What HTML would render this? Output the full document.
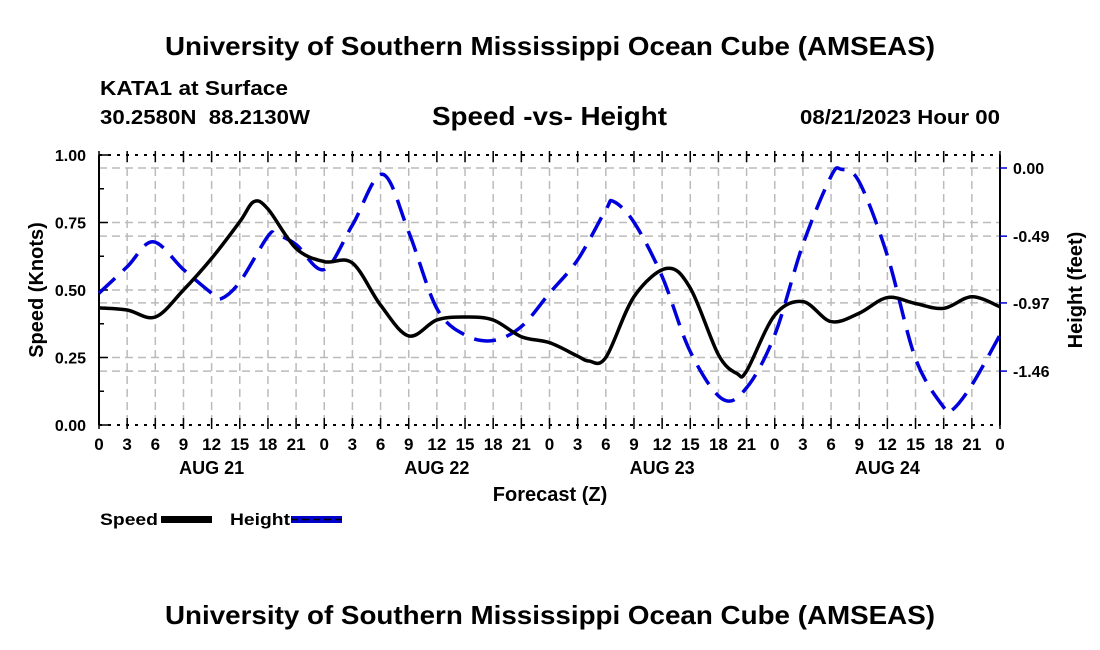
<!DOCTYPE html>
<html><head><meta charset="utf-8"><style>
html,body{margin:0;padding:0;background:#fff;}
svg{display:block;font-family:"Liberation Sans",Arial,sans-serif;font-weight:bold;}
</style></head><body>
<svg id="chart" width="1100" height="650" viewBox="0 0 1100 650">
<text x="165" y="55" font-size="26" textLength="770" lengthAdjust="spacingAndGlyphs">University of Southern Mississippi Ocean Cube (AMSEAS)</text>
<text x="100" y="95" font-size="20" textLength="188" lengthAdjust="spacingAndGlyphs">KATA1 at Surface</text>
<text x="100" y="124" font-size="20" textLength="210" lengthAdjust="spacingAndGlyphs">30.2580N&#160;&#160;88.2130W</text>
<text x="432" y="125" font-size="26" textLength="235" lengthAdjust="spacingAndGlyphs">Speed -vs- Height</text>
<text x="800" y="124" font-size="20" textLength="200" lengthAdjust="spacingAndGlyphs">08/21/2023 Hour 00</text>
<g id="grid"></g>
<g id="axes"></g>
<g id="series"></g>
<text x="550" y="501" font-size="20" text-anchor="middle">Forecast (Z)</text>
<text transform="translate(43,290) rotate(-90)" font-size="20" text-anchor="middle">Speed (Knots)</text>
<text transform="translate(1082,290) rotate(-90)" font-size="20" text-anchor="middle">Height (feet)</text>
<g>
<g>
<text x="100" y="525" font-size="17" textLength="58" lengthAdjust="spacingAndGlyphs">Speed</text>
<rect x="161" y="516" width="51" height="7" fill="#000"/>
</g>
<g>
<text x="230" y="525" font-size="17" textLength="60" lengthAdjust="spacingAndGlyphs">Height</text>
<rect x="291" y="516" width="51" height="7" fill="#0000cc"/>
<line x1="291" y1="519.5" x2="342" y2="519.5" stroke="#000" stroke-width="1.5" stroke-dasharray="7,4"/>
</g>
</g>
<text x="165" y="624" font-size="26" textLength="770" lengthAdjust="spacingAndGlyphs">University of Southern Mississippi Ocean Cube (AMSEAS)</text>
</svg>
<script>
const speedHours=[0,3,6,9,12,15,16.5,18,21,24,27,30,33,36,39,42,45,48,51,52.2,54,57,60.5,63,66,68,69,72,75,78,81,84,87,90,93,96];
const speedValues=[0.434,0.426,0.40,0.50,0.617,0.753,0.827,0.80,0.654,0.605,0.60,0.444,0.33,0.389,0.40,0.389,0.327,0.305,0.255,0.237,0.25,0.475,0.58,0.507,0.26,0.19,0.20,0.407,0.457,0.383,0.414,0.472,0.45,0.432,0.475,0.438];
const heightHours=[0,3,5.75,9,12,13,15,18,18.9,21,24,27,30.2,33,36,39,42,45,48,51,54,54.8,57,60,63,66.4,69,72,75,78,79.1,81,84,87,90,90.9,93,96];
const heightValues=[-0.90,-0.71,-0.53,-0.73,-0.90,-0.94,-0.82,-0.49,-0.48,-0.55,-0.73,-0.41,-0.045,-0.46,-1.01,-1.20,-1.24,-1.14,-0.90,-0.66,-0.30,-0.24,-0.39,-0.78,-1.32,-1.66,-1.58,-1.20,-0.55,-0.06,-0.01,-0.10,-0.63,-1.37,-1.72,-1.74,-1.56,-1.20];
const xTickLabels=["0","3","6","9","12","15","18","21"];
const dayLabels=["AUG 21","AUG 22","AUG 23","AUG 24"];
const speedTicks=[0,0.25,0.5,0.75,1.0];
const heightTicks=[0,-0.49,-0.97,-1.46];

const X0=99,X1=1000,YT=155,YB=425;
const xs=h=>X0+(X1-X0)*h/96;
const ys=v=>YB-(YB-YT)*v/1.0;
const HPX=139.1, H0Y=168;
const yh=v=>H0Y-v*HPX;
const NS="http://www.w3.org/2000/svg";
function mk(tag,attrs,parent){const e=document.createElementNS(NS,tag);for(const k in attrs)e.setAttribute(k,attrs[k]);parent.appendChild(e);return e;}
const grid=document.getElementById('grid'),axes=document.getElementById('axes'),series=document.getElementById('series');
for(let h=3;h<96;h+=3){const l=mk('line',{x1:xs(h),x2:xs(h),y1:YT,y2:YB,stroke:'#bbb','stroke-width':1.5,'stroke-dasharray':'8,5'},grid);

}
speedTicks.forEach(v=>{if(v>0&&v<1){const l=mk('line',{x1:X0,x2:X1,y1:ys(v),y2:ys(v),stroke:'#bbb','stroke-width':1.5,'stroke-dasharray':'8,5'},grid);

}});
heightTicks.forEach(v=>{const l=mk('line',{x1:X0,x2:X1,y1:yh(v),y2:yh(v),stroke:'#bbb','stroke-width':1.5,'stroke-dasharray':'8,5'},grid);

});
mk('line',{x1:X0,x2:X0,y1:YT,y2:YB,stroke:'#000','stroke-width':2},axes);
mk('line',{x1:X1,x2:X1,y1:YT,y2:YB,stroke:'#000','stroke-width':2},axes);
mk('line',{x1:X0,x2:X1,y1:YT,y2:YT,stroke:'#000','stroke-width':2,'stroke-dasharray':'3,6'},axes);
mk('line',{x1:X0,x2:X1,y1:YB,y2:YB,stroke:'#000','stroke-width':2,'stroke-dasharray':'3,6'},axes);
for(let h=0;h<=96;h+=3){
mk('line',{x1:xs(h),x2:xs(h),y1:YB-7,y2:YB+4,stroke:'#000','stroke-width':1.5},axes);
mk('line',{x1:xs(h),x2:xs(h),y1:YT-4,y2:YT+7,stroke:'#000','stroke-width':1.5},axes);
const t=mk('text',{x:xs(h),y:450,'font-size':17,'text-anchor':'middle'},axes);
t.textContent=xTickLabels[(h/3)%8];

}
dayLabels.forEach((d,i)=>{const t=mk('text',{x:xs(i*24+12),y:474,'font-size':18,'text-anchor':'middle'},axes);t.textContent=d;

});
for(let v=0;v<=1.0001;v+=0.125){mk('line',{x1:X0,x2:X0+(Math.abs(v*4-Math.round(v*4))<1e-6?9:5),y1:ys(v),y2:ys(v),stroke:'#000','stroke-width':1.5},axes);}
speedTicks.forEach(v=>{const t=mk('text',{x:86,y:ys(v)+6,'font-size':16,'text-anchor':'end'},axes);t.textContent=v.toFixed(2);

});
heightTicks.forEach(v=>{mk('line',{x1:X1,x2:X1+7,y1:yh(v),y2:yh(v),stroke:'#0000cc','stroke-width':1.5},axes);
const t=mk('text',{x:1013,y:yh(v)+6,'font-size':16},axes);t.textContent=v.toFixed(2);

});
function path(hs,vs,yf){const p=hs.map((h,i)=>[xs(h),yf(vs[i])]);let d='M'+p[0][0]+','+p[0][1];
for(let i=0;i<p.length-1;i++){const a=p[Math.max(0,i-1)],b=p[i],c=p[i+1],e=p[Math.min(p.length-1,i+2)];
const c1=[b[0]+(c[0]-a[0])/6,b[1]+(c[1]-a[1])/6],c2=[c[0]-(e[0]-b[0])/6,c[1]-(e[1]-b[1])/6];
d+=' C'+c1[0]+','+c1[1]+' '+c2[0]+','+c2[1]+' '+c[0]+','+c[1];}return d;}
const hp=mk('path',{d:path(heightHours,heightValues,yh),fill:'none',stroke:'#0000dd','stroke-width':3.5,'stroke-dasharray':'22,11'},series);


const sp=mk('path',{d:path(speedHours,speedValues,ys),fill:'none',stroke:'#000','stroke-width':3.5},series);


</script>
</body></html>
